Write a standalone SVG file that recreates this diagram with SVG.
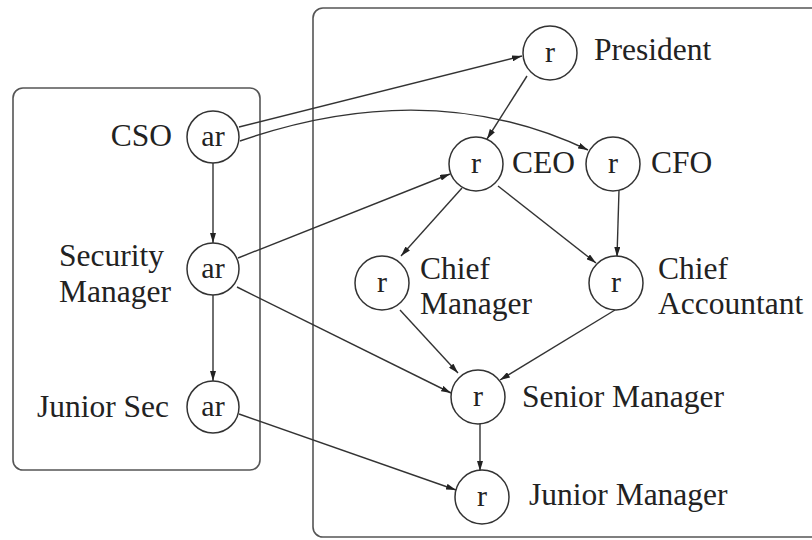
<svg xmlns="http://www.w3.org/2000/svg" width="812" height="540" viewBox="0 0 812 540">
  <style>
    .frame { fill: none; stroke: #555; stroke-width: 1.6; }
    .node circle { fill: #fff; stroke: #333; stroke-width: 1.5; }
    .edge { fill: none; stroke: #333; stroke-width: 1.4; marker-end: url(#arrow); }
    text { font-family: 'Liberation Serif', 'DejaVu Serif', 'Times New Roman', Times, serif; font-size: 31.5px; fill: #222; }
    .tag { text-anchor: middle; font-size: 30px; }
    .right { text-anchor: end; }
  </style>
  <defs>
    <marker id="arrow" viewBox="0 0 10 6" refX="10" refY="3" markerWidth="10" markerHeight="6" markerUnits="userSpaceOnUse" orient="auto">
      <path d="M0,0 L10,3 L0,6 Z" fill="#222"/>
    </marker>
  </defs>

  <rect width="812" height="540" fill="#fff"/>

  <!-- enclosing frames -->
  <rect class="frame" x="13" y="88" width="247" height="382" rx="10"/>
  <rect class="frame" x="313" y="8" width="520" height="529" rx="10"/>

  <!-- connectors -->
  <g id="edges">
    <line class="edge" x1="239" y1="127" x2="522" y2="56"/>
    <path class="edge" d="M240,141 Q430,75 588,150"/>
    <line class="edge" x1="213" y1="163" x2="213" y2="243"/>
    <line class="edge" x1="238" y1="258" x2="450" y2="174"/>
    <line class="edge" x1="237" y1="287" x2="451" y2="393"/>
    <line class="edge" x1="213" y1="295" x2="213" y2="381"/>
    <line class="edge" x1="239" y1="414" x2="456" y2="490"/>
    <line class="edge" x1="527" y1="76" x2="487" y2="139"/>
    <line class="edge" x1="462" y1="188" x2="401" y2="256"/>
    <line class="edge" x1="498" y1="186" x2="596" y2="263"/>
    <line class="edge" x1="619" y1="190" x2="617" y2="257"/>
    <line class="edge" x1="400" y1="310" x2="458" y2="373"/>
    <line class="edge" x1="615" y1="310" x2="500" y2="380"/>
    <line class="edge" x1="480" y1="423" x2="480" y2="471"/>
  </g>

  <!-- role nodes -->
  <g font-family="'Liberation Serif', 'DejaVu Serif', serif">
  <g id="cso" class="node">
    <circle cx="213" cy="137" r="26"/>
    <text class="tag" x="213" y="146">ar</text>
    <text class="right" x="172" y="146">CSO</text>
  </g>
  <g id="security-manager" class="node">
    <circle cx="213" cy="269" r="26"/>
    <text class="tag" x="213" y="278">ar</text>
    <text x="59" y="266">Security</text>
    <text x="59" y="302">Manager</text>
  </g>
  <g id="junior-sec" class="node">
    <circle cx="213" cy="407" r="26"/>
    <text class="tag" x="213" y="416">ar</text>
    <text class="right" x="169" y="417">Junior Sec</text>
  </g>
  <g id="president" class="node">
    <circle cx="550" cy="53" r="27"/>
    <text class="tag" x="550" y="62">r</text>
    <text x="594" y="60">President</text>
  </g>
  <g id="ceo" class="node">
    <circle cx="476" cy="164" r="27"/>
    <text class="tag" x="476" y="173">r</text>
    <text x="512" y="173">CEO</text>
  </g>
  <g id="cfo" class="node">
    <circle cx="613" cy="164" r="27"/>
    <text class="tag" x="613" y="173">r</text>
    <text x="651" y="173">CFO</text>
  </g>
  <g id="chief-manager" class="node">
    <circle cx="382" cy="283" r="27"/>
    <text class="tag" x="382" y="292">r</text>
    <text x="420" y="279">Chief</text>
    <text x="420" y="314">Manager</text>
  </g>
  <g id="chief-accountant" class="node">
    <circle cx="616" cy="283" r="27"/>
    <text class="tag" x="616" y="292">r</text>
    <text x="658" y="279">Chief</text>
    <text x="658" y="314">Accountant</text>
  </g>
  <g id="senior-manager" class="node">
    <circle cx="478" cy="397" r="27"/>
    <text class="tag" x="478" y="406">r</text>
    <text x="522" y="407">Senior Manager</text>
  </g>
  <g id="junior-manager" class="node">
    <circle cx="482" cy="497" r="27"/>
    <text class="tag" x="482" y="506">r</text>
    <text x="529" y="505">Junior Manager</text>
  </g>
  </g>
</svg>
